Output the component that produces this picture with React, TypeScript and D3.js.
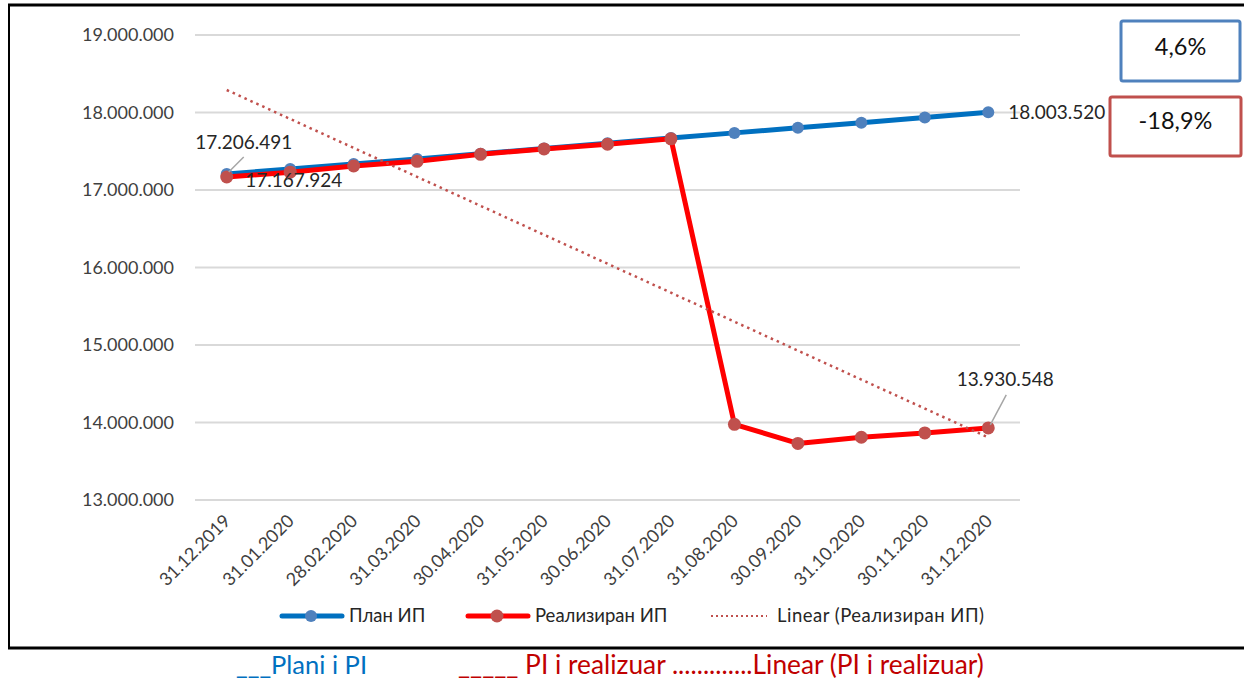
import { useEffect, useRef } from "react";
import * as d3 from "d3";

const categories = [
  "31.12.2019", "31.01.2020", "28.02.2020", "31.03.2020", "30.04.2020", "31.05.2020", "30.06.2020",
  "31.07.2020", "31.08.2020", "30.09.2020", "31.10.2020", "30.11.2020", "31.12.2020",
];
const planValues = [
  17206491, 17270000, 17335000, 17400000, 17468000, 17536000, 17602000,
  17670000, 17737000, 17802000, 17868000, 17936000, 18003520,
];
const realValues = [
  17167924, 17230000, 17310000, 17370000, 17460000, 17530000, 17590000,
  17660000, 13977000, 13730000, 13810000, 13865000, 13930548,
];
const yTicks = [13000000, 14000000, 15000000, 16000000, 17000000, 18000000, 19000000];
const seriesNames = ["План ИП", "Реализиран ИП", "Linear (Реализиран ИП)"];
const boxLabels = ["4,6%", "-18,9%"];
const noteLabels = ["___Plani i PI", "_____ PI i realizuar .............Linear (PI i realizuar)"];

const FONT = "Lato, 'Open Sans', sans-serif";

export default function App() {
  const ref = useRef<SVGSVGElement>(null);

  useEffect(() => {
    const svg = d3.select(ref.current);
    svg.selectAll("*").remove();

    const left = 195, right = 1020, top = 35, bottom = 500;
    const fmt = (v: number) => d3.format(",")(v).replace(/,/g, ".");

    const x = d3.scaleBand().domain(categories).range([left, right]);
    const cx = (c: string) => (x(c) as number) + x.bandwidth() / 2;
    const y = d3.scaleLinear().domain([13000000, 19000000]).range([bottom, top]);

    // frame
    svg.append("line").attr("x1", 8).attr("x2", 1244).attr("y1", 5).attr("y2", 5).attr("stroke", "#000").attr("stroke-width", 3);
    svg.append("line").attr("x1", 9).attr("x2", 9).attr("y1", 4).attr("y2", 649).attr("stroke", "#000").attr("stroke-width", 2);
    svg.append("line").attr("x1", 8).attr("x2", 1244).attr("y1", 648).attr("y2", 648).attr("stroke", "#000").attr("stroke-width", 3);

    // grid + y labels
    const yAxis = svg.append("g");
    yAxis.selectAll("line").data(yTicks).enter().append("line")
      .attr("x1", left).attr("x2", right)
      .attr("y1", d => y(d)).attr("y2", d => y(d))
      .attr("stroke", "#d9d9d9").attr("stroke-width", 2);
    yAxis.selectAll("text").data(yTicks).enter().append("text")
      .attr("x", 174).attr("y", d => y(d)).attr("dy", "0.35em")
      .attr("text-anchor", "end").attr("font-family", FONT).attr("font-size", 18).attr("fill", "#404040")
      .text(d => fmt(d));

    // x labels
    svg.append("g").selectAll("text").data(categories).enter().append("text")
      .attr("transform", d => `translate(${cx(d) + 5},${bottom + 22}) rotate(-45)`)
      .attr("text-anchor", "end").attr("font-family", FONT).attr("font-size", 18).attr("fill", "#404040")
      .text(d => d);

    const line = d3.line<number>().x((_, i) => cx(categories[i])).y(d => y(d));

    // trend line (least squares on realised values)
    const n = realValues.length;
    const xs = d3.range(n);
    const mx = d3.mean(xs) as number, my = d3.mean(realValues) as number;
    const slope = d3.sum(xs, i => (i - mx) * (realValues[i] - my)) / d3.sum(xs, i => (i - mx) ** 2);
    const trend = xs.map(i => my + slope * (i - mx));

    const plan = svg.append("g");
    plan.append("path").datum(planValues).attr("d", line).attr("fill", "none")
      .attr("stroke", "#0070c0").attr("stroke-width", 5).attr("stroke-linejoin", "round");
    plan.selectAll("circle").data(planValues).enter().append("circle")
      .attr("cx", (_, i) => cx(categories[i])).attr("cy", d => y(d)).attr("r", 6).attr("fill", "#4f81bd");

    const real = svg.append("g");
    real.append("path").datum(realValues).attr("d", line).attr("fill", "none")
      .attr("stroke", "#ff0000").attr("stroke-width", 5).attr("stroke-linejoin", "round");
    real.selectAll("circle").data(realValues).enter().append("circle")
      .attr("cx", (_, i) => cx(categories[i])).attr("cy", d => y(d)).attr("r", 6.5).attr("fill", "#c0504d");

    svg.append("path").datum(trend).attr("d", line).attr("fill", "none")
      .attr("stroke", "#c0504d").attr("stroke-width", 2.5).attr("stroke-dasharray", "2.5,4");

    // data labels
    const lbl = (tx: number, ty: number, t: string) =>
      svg.append("text").attr("x", tx).attr("y", ty).attr("dy", "0.35em").attr("text-anchor", "middle")
        .attr("font-family", FONT).attr("font-size", 19).attr("fill", "#262626").text(t);
    const leader = (x1: number, y1: number, x2: number, y2: number) =>
      svg.append("line").attr("x1", x1).attr("y1", y1).attr("x2", x2).attr("y2", y2)
        .attr("stroke", "#a6a6a6").attr("stroke-width", 1.5);

    const c0 = cx(categories[0]), cN = cx(categories[n - 1]);
    leader(c0 + 2, y(planValues[0]) - 2, c0 + 17, y(planValues[0]) - 17);
    lbl(c0 + 17, y(planValues[0]) - 32, fmt(planValues[0]));
    lbl(c0 + 67, y(realValues[0]) + 3, fmt(realValues[0]));
    svg.append("text").attr("x", cN + 20).attr("y", y(planValues[n - 1])).attr("dy", "0.35em")
      .attr("font-family", FONT).attr("font-size", 19).attr("fill", "#262626").text(fmt(planValues[n - 1]));
    leader(cN + 2, y(realValues[n - 1]) - 3, cN + 18, y(realValues[n - 1]) - 33);
    lbl(cN + 17, y(realValues[n - 1]) - 49, fmt(realValues[n - 1]));

    // legend
    const lg = svg.append("g").attr("font-family", FONT).attr("font-size", 18.5).attr("fill", "#262626");
    const ly = 616;
    lg.append("line").attr("x1", 282).attr("x2", 342).attr("y1", ly).attr("y2", ly).attr("stroke", "#0070c0").attr("stroke-width", 5).attr("stroke-linecap", "round");
    lg.append("circle").attr("cx", 311).attr("cy", ly).attr("r", 6).attr("fill", "#4f81bd");
    lg.append("text").attr("x", 349).attr("y", ly).attr("dy", "0.35em").text(seriesNames[0]);
    lg.append("line").attr("x1", 468).attr("x2", 528).attr("y1", ly).attr("y2", ly).attr("stroke", "#ff0000").attr("stroke-width", 5).attr("stroke-linecap", "round");
    lg.append("circle").attr("cx", 497).attr("cy", ly).attr("r", 6.5).attr("fill", "#c0504d");
    lg.append("text").attr("x", 535).attr("y", ly).attr("dy", "0.35em").text(seriesNames[1]);
    lg.append("line").attr("x1", 711).attr("x2", 767).attr("y1", ly).attr("y2", ly).attr("stroke", "#c0504d").attr("stroke-width", 2).attr("stroke-dasharray", "2,3");
    lg.append("text").attr("x", 777).attr("y", ly).attr("dy", "0.35em").attr("textLength", 207).text(seriesNames[2]);

    // boxes
    const box = (bx: number, by: number, bw: number, bh: number, col: string, ty: number, t: string) => {
      svg.append("rect").attr("x", bx).attr("y", by).attr("width", bw).attr("height", bh).attr("rx", 2)
        .attr("fill", "#fff").attr("stroke", col).attr("stroke-width", 3);
      svg.append("text").attr("x", bx + bw / 2).attr("y", ty).attr("dy", "0.35em").attr("text-anchor", "middle")
        .attr("font-family", FONT).attr("font-size", 23.5).attr("fill", "#111").text(t);
    };
    box(1121, 21, 119, 60, "#4f81bd", 47, boxLabels[0]);
    box(1110, 97, 131, 59, "#c0504d", 121, boxLabels[1]);

    // notes below frame
    svg.append("text").attr("x", 236).attr("y", 665).attr("dy", "0.35em").attr("font-family", FONT).attr("font-size", 25.5)
      .attr("fill", "#0070c0").text(noteLabels[0]);
    svg.append("text").attr("x", 458).attr("y", 665).attr("dy", "0.35em").attr("font-family", FONT).attr("font-size", 26.3)
      .attr("fill", "#c00000").text(noteLabels[1]);
  }, []);

  return (
    <svg ref={ref} width={1244} height={679} style={{ position: "absolute", left: 0, top: 0, background: "#fff" }} />
  );
}
